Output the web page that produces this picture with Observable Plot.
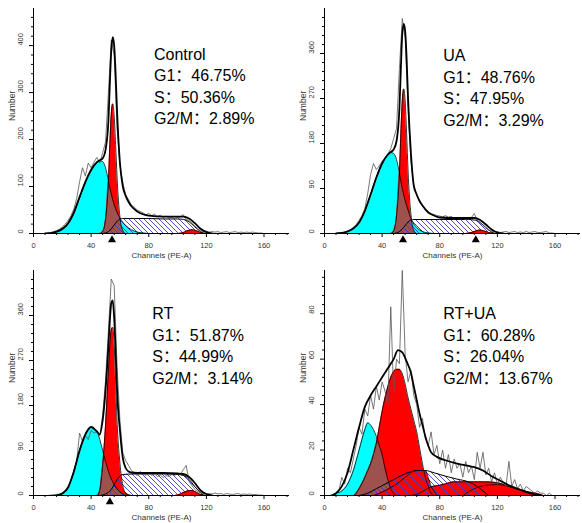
<!DOCTYPE html>
<html><head><meta charset="utf-8">
<script src="https://cdn.jsdelivr.net/npm/d3@7"></script>
<script src="https://cdn.jsdelivr.net/npm/@observablehq/plot@0.6"></script>
<style>
body{margin:0;background:#fff;}
#wrap{position:relative;width:582px;height:523px;overflow:hidden;font-family:"Liberation Sans",Arial,sans-serif;}
.panel{position:absolute;width:291px;height:262px;}
.ann{position:absolute;font-size:16px;line-height:21.5px;color:#000;white-space:nowrap;font-family:"Liberation Sans",Arial,"Noto Sans CJK SC",sans-serif;}
</style></head><body>
<svg width="0" height="0" style="position:absolute"><defs><pattern id="hatch" patternUnits="userSpaceOnUse" width="5" height="5"><path d="M-1,-1L6,6M-1,4L1,6M4,-1L6,1" stroke="#3c3cc8" stroke-width="0.9" fill="none"/></pattern></defs></svg>
<div id="wrap"></div>
<script>
// ---- shared ----
const xTicks = [0, 40, 80, 120, 160];
const xMinor = [8,16,24,32,48,56,64,72,88,96,104,112,128,136,144,152,168,176];
const histX = d3.range(6, 161, 2);

// ---- Control ----
const ctrlLabel = ["Control", "G1：46.75%", "S：50.36%", "G2/M：2.89%"];
const ctrlYTicks = [0, 100, 200, 300, 400];
const ctrlG1X = [8,12,16,20,24,28,32,36,40,44,46,48,50,52,53,54,55,56,57,58,60,62,64,68,72,76,80];
const ctrlCyan = [0,1,3,8,20,42,76,108,133,150,155,153,140,112,97,84,72,62,53,45,33,24,17,8,3,1,0];
const ctrlRed = [0,0,0,0,0,0,0,0,0,0,0,4,30,110,190,255,276,250,190,120,35,6,0,0,0,0,0];
const ctrlSX = [48,52,54,56,58,60,62,70,80,90,100,104,108,112,116,118];
const ctrlS = [0,4,10,18,26,31,32,32,32,31,31,30,25,14,4,0];
const ctrlG2X = [100,104,106,108,110,112,114,116,118,120];
const ctrlG2 = [0,2,5,7,8,7,5,2,1,0];
const ctrlFitX = [8,12,16,20,24,28,32,36,40,44,46,48,50,52,53,54,55,56,57,58,60,62,64,66,68,72,76,80,90,100,104,108,112,116,120,124];
const ctrlFit = [0,1,4,10,22,45,78,110,136,152,156,160,178,240,320,390,418,400,340,260,150,100,80,67,58,47,41,38,36,36,36,32,22,10,3,0];
const ctrlHist = [0,0,1,2,4,6,9,14,20,28,
  38,52,75,110,140,122,150,140,152,162,
  150,172,195,300,412,380,225,145,108,82,
  72,60,56,50,47,44,40,43,38,41,
  36,39,34,37,33,35,32,34,36,40,
  30,28,22,16,10,6,4,5,3,4,
  3,4,2,3,4,2,3,4,2,3,
  2,3,2,3,2,1,1,0];
const ctrlTri = [54.5];

// ---- UA ----
const uaLabel = ["UA", "G1：48.76%", "S：47.95%", "G2/M：3.29%"];
const uaYTicks = [0, 90, 180, 270, 360];
const uaG1X = [8,12,16,20,24,28,32,36,40,44,46,48,50,52,53,54,55,56,57,58,60,62,64,68,72,76,80];
const uaCyan = [0,1,4,10,22,45,78,112,140,158,162,160,148,120,105,90,78,66,56,47,30,19,12,4,1,0,0];
const uaRed = [0,0,0,0,0,0,0,0,0,0,0,5,35,120,200,265,289,265,200,125,38,6,0,0,0,0,0];
const uaSX = [48,52,54,56,58,60,62,70,80,90,100,104,108,112,116,118];
const uaS = [0,4,9,16,23,27,28,28,28,28,28,27,22,12,3,0];
const uaG2X = [98,102,104,106,108,110,112,114,116,118];
const uaG2 = [0,2,4,6,7,6,4,2,1,0];
const uaFitX = [8,12,16,20,24,28,32,36,40,44,46,48,50,52,53,54,55,56,57,58,60,62,64,66,68,72,76,80,90,100,104,108,112,116,120,124];
const uaFit = [0,1,4,10,22,45,78,112,140,158,163,168,185,250,330,400,419,405,350,270,160,95,78,65,56,42,36,32,31,31,31,27,18,8,2,0];
const uaHist = [0,0,1,1,3,5,8,12,18,26,
  36,50,80,118,140,128,135,145,150,158,
  170,190,210,330,430,390,250,145,98,76,
  63,55,50,44,40,38,36,35,33,36,
  32,34,30,31,29,30,28,30,32,40,
  26,22,16,11,6,5,3,4,2,3,
  4,2,3,4,2,3,2,4,2,3,
  4,2,2,3,4,1,1,0];
const uaTri = [54.5, 105];

// ---- RT ----
const rtLabel = ["RT", "G1：51.87%", "S：44.99%", "G2/M：3.14%"];
const rtYTicks = [0, 90, 180, 270, 360];
const rtG1X = [8,12,16,20,24,28,32,36,40,44,46,48,50,52,53,54,55,56,57,58,60,62,64,68,72,76,80];
const rtCyan = [0,0,1,4,16,48,90,122,137,128,112,90,68,48,40,33,27,22,17,13,7,3,1,0,0,0,0];
const rtRed = [0,0,0,0,0,0,0,0,0,0,10,60,140,250,300,332,336,300,230,150,65,20,5,0,0,0,0];
const rtSX = [46,50,54,56,58,60,62,70,80,90,100,104,108,112,116,118];
const rtS = [0,3,12,22,32,39,42,43,43,43,42,40,32,18,5,0];
const rtG2X = [98,102,104,106,108,110,112,114,116,118,120];
const rtG2 = [0,3,6,8,10,10,8,5,2,1,0];
const rtFitX = [16,20,24,28,32,36,40,44,46,48,50,52,53,54,55,56,57,58,60,62,64,66,68,72,80,90,100,104,108,112,116,120,124];
const rtFit = [0,4,16,48,90,122,137,128,122,150,210,300,350,385,390,355,290,210,130,75,55,48,46,45,45,45,44,43,37,25,10,3,0];
const rtHist = [0,0,0,1,1,2,3,5,10,18,
  30,45,70,125,108,120,112,130,125,128,
  120,160,230,330,433,420,260,150,85,70,
  60,50,45,40,48,44,40,46,40,44,
  38,41,36,40,38,42,40,44,42,52,
  60,28,20,12,8,5,4,3,4,3,
  5,3,4,2,4,3,2,3,4,2,
  3,2,3,2,2,1,1,0];
const rtTri = [53];

// ---- RT+UA ----
const ruLabel = ["RT+UA", "G1：60.28%", "S：26.04%", "G2/M：13.67%"];
const ruYTicks = [0, 20, 40, 60, 80];
const ruG1X = [4,8,12,16,20,24,28,30,32,34,36,38,40,42,44,46,48,50,52,54,56,58,60,62,64,66,68,70,72,74,76,80];
const ruCyan = [0,1,2,5,11,20,29,32,31,29,26,22,18,12,7,3,1,0,0,0,0,0,0,0,0,0,0,0,0,0,0,0];
const ruRed = [0,0,0,0,0,3,8,11,14,18,23,30,37,43,48,52,54.5,55.5,55.5,53.5,49,43,38,33,28,21,14,8,4,1,0,0];
const ruSX = [24,30,36,42,48,54,60,64,70,76,84,92,100,106,110,114];
const ruS = [0,1,3,5,7,9,10.5,11,11,10,8.5,7.2,6,4,2,0];
const ruG2aX = [34,40,46,50,54,58,62,66,70,72,74,76,78];
const ruG2a = [0,1.5,3.5,5,7,9,10.8,11,11,8,4,2,0];
const ruG2bX = [60,66,70,74,80,86,90,100,110,118,124,130,136,142,148,152];
const ruG2b = [0,1,2.5,3.8,4.5,5.5,6,6,6,5.8,5,3.5,2.5,1.5,0.8,0];
const ruG2cX = [96,104,112,120,128,136,144,150];
const ruG2c = [0,3,4.5,4.8,4,2.5,1,0];
const ruFitX = [6,8,12,16,20,24,28,32,36,40,44,48,51,54,57,60,62,64,66,68,70,72,74,78,84,92,100,104,110,116,122,128,134,140,146,150];
const ruFit = [0,1,4,10,20,30,39,44,48,52,56,60,64,63,59,54,48,42,36,31,26,22,19,17,15.5,14,13,12.5,11,8.5,6.5,4.5,3,1.5,0.5,0];
const ruHist = [0,1,2,8,5,12,10,16,22,30,
  27,38,35,44,38,48,42,50,46,40,
  83,45,60,58,99,62,50,55,44,40,
  30,34,25,22,28,18,22,14,20,12,
  18,10,16,12,14,8,15,10,13,7,
  19,12,19,9,12,6,10,5,8,6,
  4,15,4,7,3,5,2,4,3,2,
  1,2,1,1,0,1,0,0];
const ruTri = [];

const CYAN = "#00ffff", RED = "#ff0000", BROWN = "#9e514d";
const FONT = "Liberation Sans, Arial, sans-serif";

function zipXY(xs, ys) { return xs.map((x, i) => ({x, y: ys[i]})); }

function makePanel(o) {
  const g1 = o.g1x.map((x, i) => ({x, c: o.cyan[i], r: o.red[i], o: Math.min(o.cyan[i], o.red[i])}));
  const sData = zipXY(o.sx, o.s);
  const g2s = o.g2.map(([xs, ys]) => zipXY(xs, ys));
  const fit = zipXY(o.fitx, o.fit);
  const hist = zipXY(histX, o.hist);
  const step = o.yTicks[1] - o.yTicks[0];
  const minorStep = step / 5;
  const yMinor = d3.range(0, o.yMax + 0.001, minorStep).filter(v => Math.abs(v / step - Math.round(v / step)) > 1e-6);
  const curve = "monotone-x";
  const g2Marks = g2s.map(d => Plot.areaY(d, {x: "x", y: "y", fill: RED, curve}));
  const g2Lines = g2s.map(d => Plot.lineY(d, {x: "x", y: "y", stroke: "black", strokeWidth: 0.8, curve}));
  const sMarks = [Plot.areaY(sData, {x: "x", y: "y", fill: "url(#hatch)", curve})];
  const marks = [
    Plot.areaY(g1, {x: "x", y: "c", fill: CYAN, curve}),
    Plot.areaY(g1, {x: "x", y: "r", fill: RED, curve}),
    Plot.areaY(g1, {x: "x", y: "o", fill: BROWN, curve}),
    ...(o.g2First ? [...g2Marks, ...sMarks] : [...sMarks, ...g2Marks]),
    Plot.lineY(g1, {x: "x", y: "c", stroke: "black", strokeWidth: 0.8, curve}),
    Plot.lineY(g1, {x: "x", y: "r", stroke: "black", strokeWidth: 0.8, curve}),
    Plot.lineY(sData, {x: "x", y: "y", stroke: "black", strokeWidth: 1, curve}),
    ...g2Lines,
    Plot.lineY(hist, {x: "x", y: "y", stroke: "#555", strokeWidth: 0.8, clip: true}),
    Plot.lineY(fit, {x: "x", y: "y", stroke: "black", strokeWidth: 1.8, curve, clip: true}),
    Plot.ruleY([0], {stroke: "black", strokeWidth: 1}),
    Plot.ruleX([0], {stroke: "black", strokeWidth: 1}),
    Plot.axisX({ticks: xTicks, tickSize: 4, tickPadding: 5, fontSize: 7.5, fill: "#333", stroke: "black", label: null}),
    Plot.axisX({ticks: xMinor, tickSize: 2, tickFormat: () => "", stroke: "black", label: null}),
    Plot.axisY({ticks: o.yTicks, tickSize: 4, tickFormat: () => "", stroke: "black", label: null}),
    Plot.axisY({ticks: yMinor, tickSize: 2, tickFormat: () => "", stroke: "black", label: null}),
    Plot.text(o.yTicks, {y: d => d, text: d => String(d), frameAnchor: "left", dx: -13, rotate: -90, fontSize: 7.5, fill: "#333"}),
    Plot.text(["Number"], {text: d => d, frameAnchor: "left", dx: -21.5, rotate: -90, fontSize: 8.5, fill: "#333"}),
    Plot.text(["Channels (PE-A)"], {text: d => d, frameAnchor: "bottom", dy: 24.5, fontSize: 8, fill: "#333"}),
    Plot.dot(o.tri, {x: d => d, frameAnchor: "bottom", dy: 6.5, symbol: "triangle", r: 3, fill: "black", stroke: null})
  ];
  return Plot.plot({
    width: 291, height: 262,
    marginLeft: 33, marginRight: 2, marginTop: 8, marginBottom: 29,
    x: {domain: [0, 177.7]},
    y: {domain: [0, o.yMax]},
    style: {fontFamily: FONT, background: "transparent", overflow: "visible"},
    marks
  });
}

const panels = [
  {left: 0, top: 0, label: ctrlLabel, annX: 154, annTop: 43.7, yTicks: ctrlYTicks, yMax: 479,
   g1x: ctrlG1X, cyan: ctrlCyan, red: ctrlRed, sx: ctrlSX, s: ctrlS, g2: [[ctrlG2X, ctrlG2]],
   fitx: ctrlFitX, fit: ctrlFit, hist: ctrlHist, tri: ctrlTri, g2First: false},
  {left: 291, top: 0, label: uaLabel, annX: 152.3, annTop: 45.4, yTicks: uaYTicks, yMax: 450,
   g1x: uaG1X, cyan: uaCyan, red: uaRed, sx: uaSX, s: uaS, g2: [[uaG2X, uaG2]],
   fitx: uaFitX, fit: uaFit, hist: uaHist, tri: uaTri, g2First: false},
  {left: 0, top: 262, label: rtLabel, annX: 152.3, annTop: 41, yTicks: rtYTicks, yMax: 450,
   g1x: rtG1X, cyan: rtCyan, red: rtRed, sx: rtSX, s: rtS, g2: [[rtG2X, rtG2]],
   fitx: rtFitX, fit: rtFit, hist: rtHist, tri: rtTri, g2First: false},
  {left: 291, top: 262, label: ruLabel, annX: 152.3, annTop: 41, yTicks: ruYTicks, yMax: 99,
   g1x: ruG1X, cyan: ruCyan, red: ruRed, sx: ruSX, s: ruS, g2: [[ruG2aX, ruG2a], [ruG2bX, ruG2b], [ruG2cX, ruG2c]],
   fitx: ruFitX, fit: ruFit, hist: ruHist, tri: ruTri, g2First: true}
];

const wrap = document.getElementById("wrap");
for (const p of panels) {
  const div = document.createElement("div");
  div.className = "panel";
  div.style.left = p.left + "px";
  div.style.top = p.top + "px";
  div.appendChild(makePanel(p));
  const ann = document.createElement("div");
  ann.className = "ann";
  ann.style.left = p.annX + "px";
  ann.style.top = p.annTop + "px";
  ann.innerHTML = p.label.map(t => `<div>${t}</div>`).join("");
  div.appendChild(ann);
  wrap.appendChild(div);
}
</script>
</body></html>
